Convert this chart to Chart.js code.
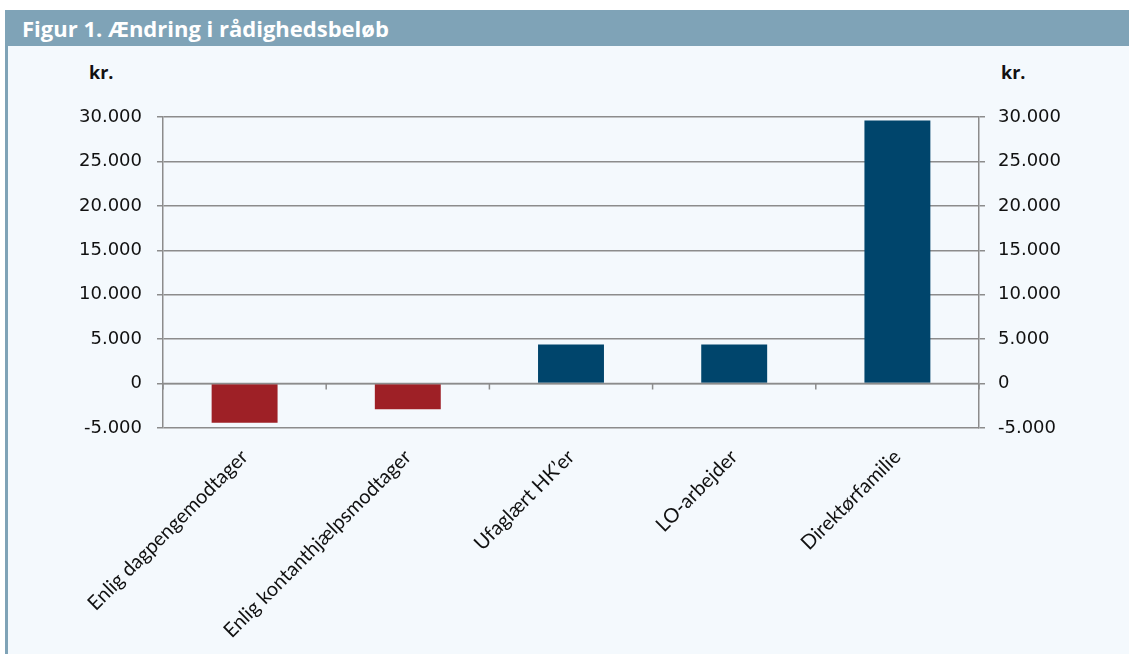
<!DOCTYPE html>
<html lang="da">
<head>
<meta charset="utf-8">
<title>Figur 1. Ændring i rådighedsbeløb</title>
<script src="https://cdn.jsdelivr.net/npm/chart.js@4"></script>
<style>
  html, body { margin: 0; padding: 0; background: #ffffff; }
  #ramme { position: relative; width: 1129px; height: 654px; overflow: hidden; }
  #titel {
    position: absolute; left: 5px; top: 10px; right: 0; height: 36px;
    background: #7fa3b7; color: #ffffff;
    font: bold 22px "Open Sans", Lato, sans-serif;
    line-height: 36px; padding-left: 17px; box-sizing: border-box;
  }
  #flade {
    position: absolute; left: 5px; top: 46px; right: 0; bottom: 0;
    background: #f4f9fd; border-left: 3px solid #7fa3b7;
  }
  .enhed { position: absolute; top: 60px; font: bold 18px "Open Sans", sans-serif; color: #111; }
  #graf-boks { position: absolute; left: 8px; top: 46px; width: 1121px; height: 608px; }
</style>
</head>
<body>
<div id="ramme">
  <div id="titel">Figur 1. Ændring i rådighedsbeløb</div>
  <div id="flade"></div>
  <div class="enhed" style="left:89px">kr.</div>
  <div class="enhed" style="left:1001px">kr.</div>
  <div id="graf-boks"><canvas id="graf" width="1121" height="608"></canvas></div>
</div>
<script>
  // Data
  const kategorier = [
    'Enlig dagpengemodtager',
    'Enlig kontanthjælpsmodtager',
    'Ufaglært HK\u2019er',
    'LO-arbejder',
    'Direktørfamilie'
  ];
  const vaerdier = [-4400, -2900, 4400, 4400, 29600];
  const yMin = -5000;
  const yMax = 30000;
  const yTrin = 5000;

  const roed = '#9e2026';
  const blaa = '#00456c';
  const gitter = '#8c8c8c';

  // Dansk talformat: 30.000
  function formaterTal(v) {
    return String(v).replace(/\B(?=(\d{3})+(?!\d))/g, '.');
  }

  // Små streger på 0-linjen mellem kategorierne
  const nulStreger = {
    id: 'nulStreger',
    afterDatasetsDraw(chart) {
      const x = chart.scales.x;
      const y = chart.scales.y;
      const ctx = chart.ctx;
      const y0 = y.getPixelForValue(0);
      const halv = (x.getPixelForValue(1) - x.getPixelForValue(0)) / 2;
      ctx.save();
      ctx.strokeStyle = gitter;
      ctx.lineWidth = 1.5;
      ctx.beginPath();
      ctx.moveTo(chart.chartArea.left, y0);
      ctx.lineTo(chart.chartArea.right, y0);
      for (let i = 0; i <= kategorier.length; i++) {
        const px = x.getPixelForValue(i) - halv;
        ctx.moveTo(px, y0);
        ctx.lineTo(px, y0 + 6);
      }
      ctx.stroke();
      ctx.restore();
    }
  };

  const tickFont = { family: '"DejaVu Sans", sans-serif', size: 18 };

  new Chart(document.getElementById('graf'), {
    type: 'bar',
    data: {
      labels: kategorier,
      datasets: [{
        data: vaerdier,
        backgroundColor: vaerdier.map(v => v < 0 ? roed : blaa),
        borderWidth: 0,
        categoryPercentage: 1,
        barPercentage: 0.404,
        yAxisID: 'y'
      }]
    },
    options: {
      responsive: false,
      animation: false,
      layout: { padding: { top: 71, left: 0, right: 0, bottom: 0 } },
      plugins: { legend: { display: false }, tooltip: { enabled: false } },
      scales: {
        x: {
          grid: { display: false, drawTicks: false },
          border: { display: false },
          ticks: {
            color: '#111',
            font: { family: 'Lato, sans-serif', size: 20 },
            maxRotation: 45, minRotation: 45,
            padding: 17
          },
          afterFit(s) { s.height = 226; }
        },
        y: {
          position: 'left',
          min: yMin, max: yMax,
          grid: { color: gitter, lineWidth: 1.5, tickLength: 6 },
          border: { color: gitter, width: 1.5 },
          ticks: {
            stepSize: yTrin, color: '#111', font: tickFont, padding: 15,
            callback: v => formaterTal(v)
          },
          afterFit(s) { s.width = 155; }
        },
        y2: {
          position: 'right',
          min: yMin, max: yMax,
          grid: { color: gitter, lineWidth: 1.5, tickLength: 6, drawOnChartArea: false },
          border: { color: gitter, width: 1.5 },
          ticks: {
            stepSize: yTrin, color: '#111', font: tickFont, padding: 13,
            callback: v => formaterTal(v)
          },
          afterFit(s) { s.width = 150; }
        }
      }
    },
    plugins: [nulStreger]
  });
</script>
</body>
</html>
